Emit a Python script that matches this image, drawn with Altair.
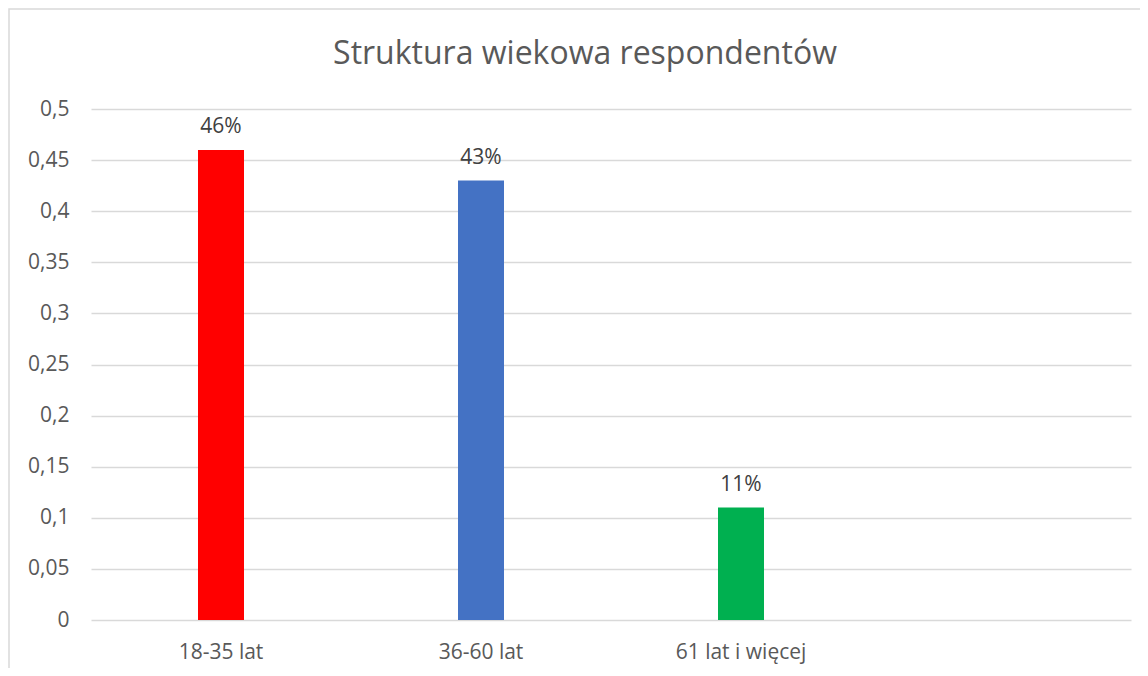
import altair as alt
import pandas as pd

categories = ["18-35 lat", "36-60 lat", "61 lat i więcej"]
values = [0.46, 0.43, 0.11]
colors = ["#FF0000", "#4472C4", "#00B050"]
domain_x = categories + [" "]
y_ticks = [0, 0.05, 0.1, 0.15, 0.2, 0.25, 0.3, 0.35, 0.4, 0.45, 0.5]

df = pd.DataFrame({"kat": categories, "val": values, "col": colors})

FONT = "Open Sans"
GRAY = "#595959"

x_enc = alt.X("kat:N", scale=alt.Scale(domain=domain_x, paddingInner=0, paddingOuter=0),
              sort=domain_x,
              axis=alt.Axis(title=None, labelAngle=0, domain=False, ticks=False, grid=False,
                            labelFont=FONT, labelFontSize=21, labelColor=GRAY,
                            labelBaseline="alphabetic", labelPadding=38))
y_enc = alt.Y("val:Q", scale=alt.Scale(domain=[0, 0.5], nice=False),
              axis=alt.Axis(title=None, values=y_ticks, domain=False, ticks=False,
                            grid=True, gridColor="#D9D9D9", gridWidth=1.5,
                            labelFont=FONT, labelFontSize=21, labelColor=GRAY,
                            labelPadding=22,
                            labelExpr="replace(format(datum.value, '.2~f'), '.', ',')"))

bars = alt.Chart(df).mark_bar(size=46).encode(
    x=x_enc, y=y_enc, color=alt.Color("col:N", scale=None)
)
labels = alt.Chart(df).mark_text(dy=-17, baseline="alphabetic", font=FONT, fontSize=21,
                                 color="#404040").encode(
    x=alt.X("kat:N", scale=alt.Scale(domain=domain_x), sort=domain_x),
    y="val:Q",
    text=alt.Text("val:Q", format=".0%"),
)
border = alt.Chart(alt.Data(values=[{}])).mark_rect(fill=None, stroke="#D9D9D9",
                                                   strokeWidth=1.5).encode(
    x=alt.value(-82), x2=alt.value(1300), y=alt.value(-100), y2=alt.value(800)
)

chart = alt.layer(border, bars, labels).properties(
    width=1040, height=511,
    title=alt.TitleParams("Struktura wiekowa respondentów", font=FONT, fontSize=32,
                          fontWeight="normal", color=GRAY, anchor="middle",
                          frame="group", baseline="alphabetic", offset=-88, dx=-26),
    autosize=alt.AutoSizeParams(type="none"),
    padding={"left": 83, "top": 101, "right": 9, "bottom": 48},
    background="white",
).configure_view(stroke=None)

chart.save("out.html", embed_options={"renderer": "svg", "actions": False})
